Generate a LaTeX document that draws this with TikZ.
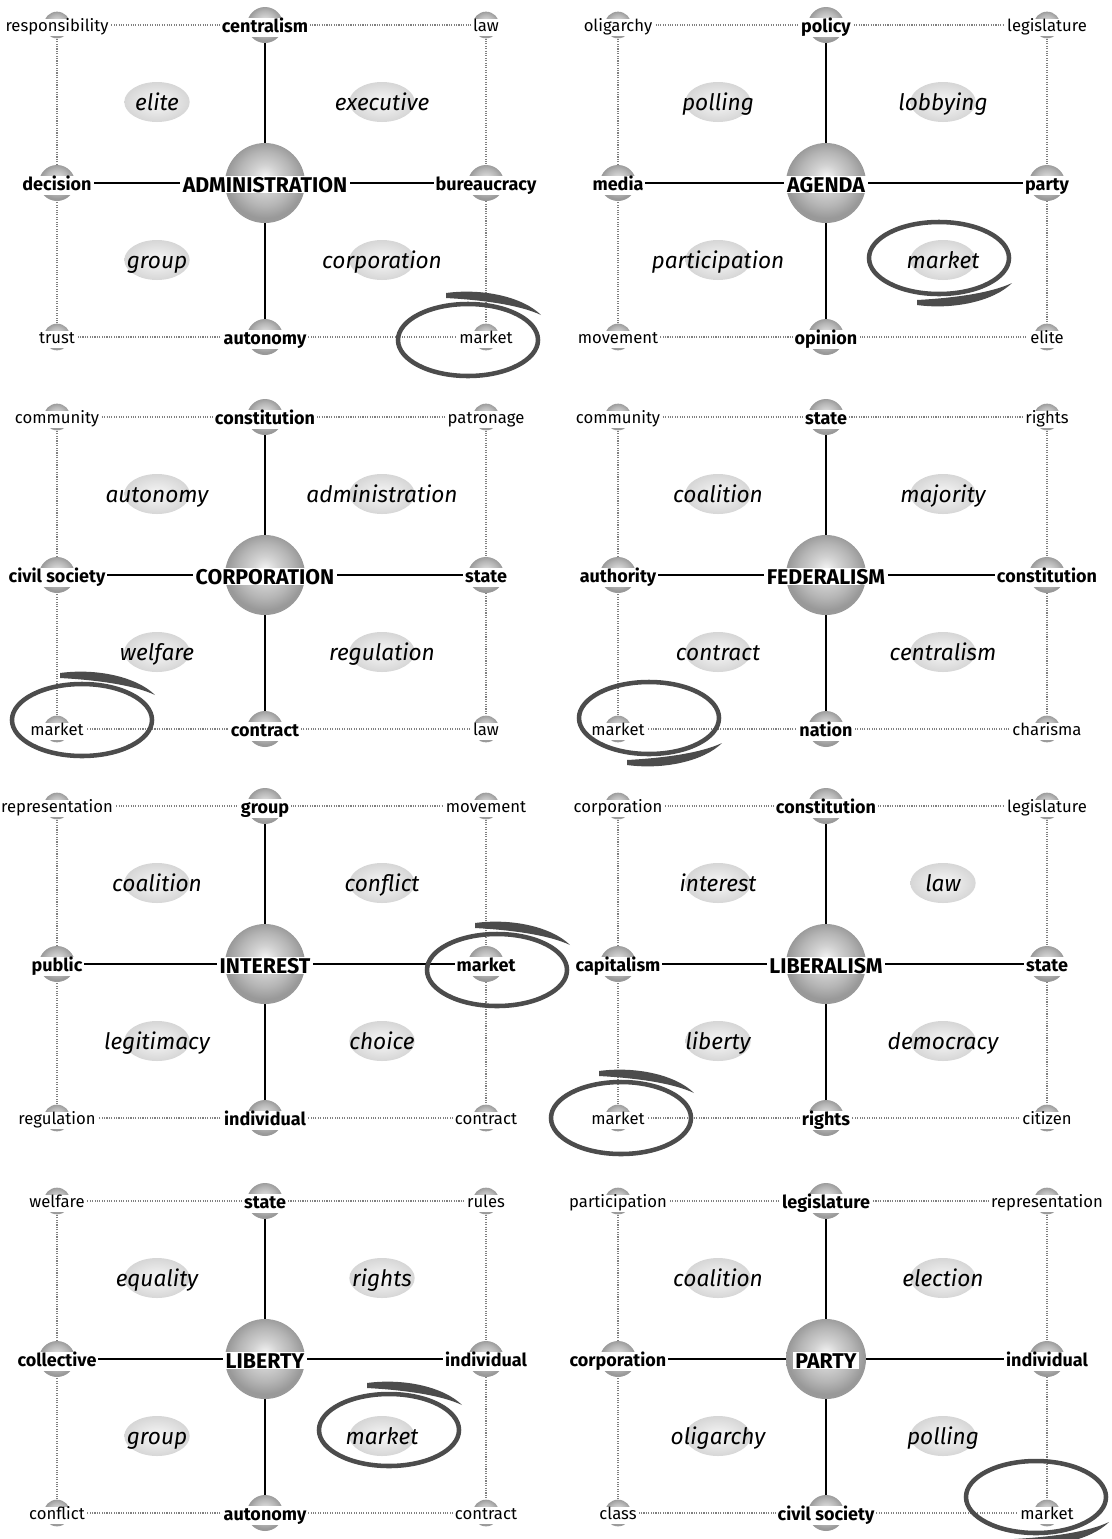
\documentclass[tikz,border=0pt]{standalone}
\usepackage{fontspec}
\setmainfont{Fira Sans}
\usetikzlibrary{shapes.geometric, backgrounds}

\pgfdeclareradialshading{orb}{\pgfpoint{0bp}{4bp}}{%
  color(0bp)=(gray!8); color(8bp)=(gray!35); color(17bp)=(gray!58);
  color(24bp)=(gray!80); color(50bp)=(gray!80)}

% one concept map: #1,#2 top-left corner, #3 name, #4 hub word,
% #5 top/right/bottom/left, #6 corners tl/tr/bl/br, #7 topics tl/tr/bl/br
\newcommand\panel[7]{%
  \node[hub, label={[hubword, name=#3-cw]center:#4}] (#3-c) at (#1+208,#2+158) {};
  \foreach \mt/\mr/\mb/\ml in {#5} {
    \node[knot, label={[keyword, name=#3-tw]center:\mt}] (#3-t) at (#1+208,#2) {};
    \node[knot, label={[keyword, name=#3-rw]center:\mr}] (#3-r) at (#1+429,#2+158) {};
    \node[knot, label={[keyword, name=#3-bw]center:\mb}] (#3-b) at (#1+208,#2+312) {};
    \node[knot, label={[keyword, name=#3-lw]center:\ml}] (#3-l) at (#1,#2+158) {};
  }
  \foreach \ka/\kb/\kc/\kd in {#6} {
    \node[pin, label={[minorword, name=#3-tlw]center:\ka}] (#3-tl) at (#1,#2) {};
    \node[pin, label={[minorword, name=#3-trw]center:\kb}] (#3-tr) at (#1+429,#2) {};
    \node[pin, label={[minorword, name=#3-blw]center:\kc}] (#3-bl) at (#1,#2+312) {};
    \node[pin, label={[minorword, name=#3-brw]center:\kd}] (#3-br) at (#1+429,#2+312) {};
  }
  \foreach \qa/\qb/\qc/\qd in {#7} {
    \node[blob, label={[topicword, name=#3-qaw]center:\qa}] (#3-qa) at (#1+100,#2+77) {};
    \node[blob, label={[topicword, name=#3-qbw]center:\qb}] (#3-qb) at (#1+325,#2+77) {};
    \node[blob, label={[topicword, name=#3-qcw]center:\qc}] (#3-qc) at (#1+100,#2+235) {};
    \node[blob, label={[topicword, name=#3-qdw]center:\qd}] (#3-qd) at (#1+325,#2+235) {};
  }
  \begin{scope}[on background layer]
    \draw[rim] (#3-tl) -- (#3-t) -- (#3-tr) -- (#3-r) -- (#3-br) -- (#3-b) -- (#3-bl) -- (#3-l) -- (#3-tl);
    \draw[spoke] (#3-c) -- (#3-t) (#3-c) -- (#3-r) (#3-c) -- (#3-b) (#3-c) -- (#3-l);
  \end{scope}
}

% hand-drawn ring round "market": #1,#2 centre, #3 yscale, #4 rotation
\newcommand\marketring[4]{%
  \begin{scope}[shift={(#1,#2)}, yscale=#3, rotate=#4]
    \draw[scribble] (0,0) ellipse (70 and 36);
    \fill[black!70] (-22,-47) .. controls (15,-52) and (55,-43) .. (73,-25)
      .. controls (52,-35) and (15,-40) .. (-22,-42) -- cycle;
  \end{scope}
}

\begin{document}
\begin{tikzpicture}[
    x=0.75pt, y=-0.75pt,
    hub/.style       = {circle, minimum size=60pt, inner sep=0pt, shading=orb},
    knot/.style      = {circle, minimum size=27pt, inner sep=0pt, shading=orb},
    pin/.style       = {circle, minimum size=20pt, inner sep=0pt, shading=orb},
    hubword/.style   = {fill=white, inner xsep=2pt, inner ysep=0.6pt, text height=11.5pt, text depth=0pt, yshift=-1pt,
                        font=\fontsize{16}{16}\selectfont\bfseries},
    keyword/.style   = {fill=white, inner xsep=1.5pt, inner ysep=0.5pt, text height=10pt, text depth=3pt, yshift=-2pt,
                        font=\fontsize{13.5}{14}\selectfont\bfseries},
    minorword/.style = {fill=white, inner xsep=1.5pt, inner ysep=0.5pt, text height=9.2pt, text depth=2.8pt, yshift=-2pt,
                        font=\fontsize{12.5}{13}\selectfont},
    blob/.style      = {ellipse, minimum width=49pt, minimum height=30pt, inner sep=0pt, inner color=gray!6, outer color=gray!32},
    topicword/.style = {inner sep=0pt, text height=12pt, text depth=4pt, yshift=-2pt, font=\fontsize{17}{17}\selectfont\itshape},
    spoke/.style     = {line width=1.1pt},
    rim/.style       = {gray, densely dotted, line width=0.8pt},
    scribble/.style  = {line width=3.4pt, black!70},
  ]
  \useasboundingbox (0,0) rectangle (1112,1539);

  \panel{57}{25}{admin}{ADMINISTRATION}{centralism/bureaucracy/autonomy/decision}{responsibility/law/trust/market}{elite/executive/group/corporation}
  \panel{618}{25}{agenda}{AGENDA}{policy/party/opinion/media}{oligarchy/legislature/movement/elite}{polling/lobbying/participation/market}
  \panel{57}{417}{corp}{CORPORATION}{constitution/state/contract/civil society}{community/patronage/market/law}{autonomy/administration/welfare/regulation}
  \panel{618}{417}{fed}{FEDERALISM}{state/constitution/nation/authority}{community/rights/market/charisma}{coalition/majority/contract/centralism}
  \panel{57}{806}{interest}{INTEREST}{group/market/individual/public}{representation/movement/regulation/contract}{coalition/conflict/legitimacy/choice}
  \panel{618}{806}{lib}{LIBERALISM}{constitution/state/rights/capitalism}{corporation/legislature/market/citizen}{interest/law/liberty/democracy}
  \panel{57}{1201}{liberty}{LIBERTY}{state/individual/autonomy/collective}{welfare/rules/conflict/contract}{equality/rights/group/market}
  \panel{618}{1201}{party}{PARTY}{legislature/individual/civil society/corporation}{participation/representation/class/market}{coalition/election/oligarchy/polling}

  \marketring{468}{340}{1}{0}
  \marketring{939}{258}{-1}{0}
  \marketring{82}{720}{1}{0}
  \marketring{649}{718}{-1}{0}
  \marketring{497}{970}{1}{0}
  \marketring{621}{1118}{1}{0}
  \marketring{389}{1430}{1}{0}
  \marketring{1036}{1497}{-1}{0}
\end{tikzpicture}
\end{document}
